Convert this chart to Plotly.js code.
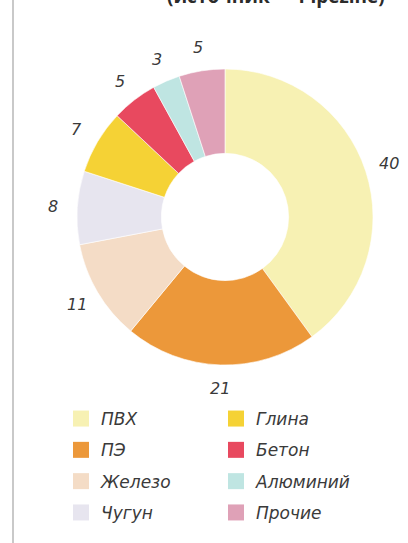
<!DOCTYPE html>
<html>
<head>
<meta charset="utf-8">
<script src="https://cdn.plot.ly/plotly-3.0.1.min.js"></script>
<style>html,body{margin:0;padding:0;background:#fff;}#chart{width:408px;height:543px;}</style>
</head>
<body>
<div id="chart"></div>
<script>
var categories = ["ПВХ", "ПЭ", "Железо", "Чугун", "Глина", "Бетон", "Алюминий", "Прочие"];
var values = [40, 21, 11, 8, 7, 5, 3, 5];
var colors = ["#f7f1b3", "#ec983a", "#f4dcc6", "#e7e5ef", "#f5d235", "#e8495f", "#bfe5e2", "#dfa1b7"];
var headerText = "(источник — Pipezine)";

var W = 408, H = 543;
var CX = 225, CY = 217, R = 148;
var textFont = {family: "DejaVu Sans, sans-serif", style: "italic", size: 16, color: "#3a3a3a"};
var legendFont = {family: "DejaVu Sans, sans-serif", style: "italic", size: 17, color: "#3a3a3a"};

var traces = [{
  type: "pie",
  labels: categories,
  values: values,
  marker: {colors: colors, line: {color: "#ffffff", width: 0.6}},
  hole: 0.43,
  sort: false,
  direction: "clockwise",
  rotation: 0,
  textinfo: "none",
  showlegend: false,
  hoverinfo: "none",
  domain: {x: [(CX - R) / W, (CX + R) / W], y: [(H - CY - R) / H, (H - CY + R) / H]}
}];

categories.forEach(function (c, i) {
  traces.push({
    type: "scatter",
    mode: "markers",
    x: [null], y: [null],
    name: c,
    legendgroup: "g" + i,
    legend: i < 4 ? "legend" : "legend2",
    marker: {symbol: "square", size: 16, color: colors[i]},
    hoverinfo: "none"
  });
});

// value labels placed outside each slice at its mid-angle (computed from the data)
var total = values.reduce(function (a, b) { return a + b; }, 0);
var cum = 0;
var labelAnnotations = values.map(function (v) {
  var mid = (cum + v / 2) / total * 2 * Math.PI;
  cum += v;
  var rl = R + 24;
  var px = CX + rl * Math.sin(mid);
  var py = CY - rl * Math.cos(mid);
  return {
    text: String(v), xref: "paper", yref: "paper",
    x: px / W, y: 1 - py / H, xanchor: "center", yanchor: "middle",
    showarrow: false, font: textFont
  };
});

var legendBase = {
  yanchor: "top",
  xanchor: "left",
  y: 1 - 401 / H,
  bgcolor: "rgba(0,0,0,0)",
  font: legendFont,
  traceorder: "grouped",
  tracegroupgap: 6.2,
  orientation: "v"
};

var layout = {
  width: W, height: H,
  margin: {l: 0, r: 0, t: 0, b: 0},
  paper_bgcolor: "#ffffff",
  plot_bgcolor: "rgba(0,0,0,0)",
  xaxis: {visible: false},
  yaxis: {visible: false},
  legend: Object.assign({}, legendBase, {x: 61 / W}),
  legend2: Object.assign({}, legendBase, {x: 216 / W}),
  shapes: [{type: "line", xref: "paper", yref: "paper", x0: 13 / W, x1: 13 / W, y0: 0, y1: 1,
            line: {color: "#c9c9c9", width: 2}}],
  annotations: [{
    text: headerText, xref: "paper", yref: "paper", x: 276 / W, y: 1,
    xanchor: "center", yanchor: "bottom", yshift: -11, showarrow: false,
    font: {family: "Open Sans, DejaVu Sans, sans-serif", size: 19, weight: 700, color: "#2b2b2b"}
  }].concat(labelAnnotations)
};

Plotly.newPlot("chart", traces, layout, {staticPlot: true, displayModeBar: false});
</script>
</body>
</html>
